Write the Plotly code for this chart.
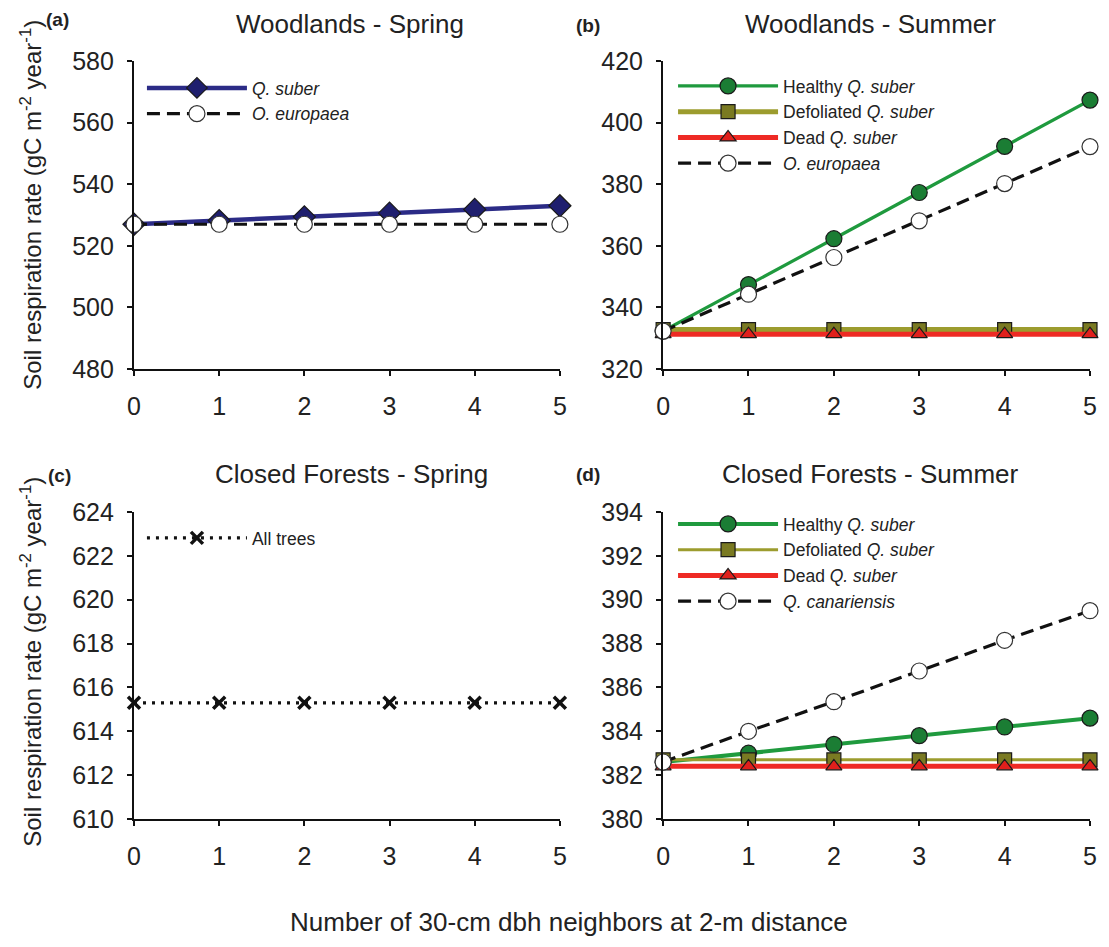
import plotly.graph_objects as go

# ---------------- data ----------------
neighbors = [0, 1, 2, 3, 4, 5]

a_q_suber = [527.0, 528.2, 529.4, 530.6, 531.8, 533.0]
a_o_europaea = [527.0, 527.0, 527.0, 527.0, 527.0, 527.0]

b_healthy = [332.3, 347.4, 362.3, 377.3, 392.3, 407.3]
b_defoliated = [332.8, 332.8, 332.8, 332.8, 332.8, 332.8]
b_dead = [331.3, 331.3, 331.3, 331.3, 331.3, 331.3]
b_o_europaea = [332.3, 344.3, 356.2, 368.1, 380.2, 392.2]

c_all_trees = [615.3, 615.3, 615.3, 615.3, 615.3, 615.3]

d_healthy = [382.6, 383.0, 383.4, 383.8, 384.2, 384.6]
d_defoliated = [382.7, 382.7, 382.7, 382.7, 382.7, 382.7]
d_dead = [382.4, 382.4, 382.4, 382.4, 382.4, 382.4]
d_canariensis = [382.6, 384.0, 385.35, 386.75, 388.15, 389.5]

panel_titles = ["Woodlands - Spring", "Woodlands - Summer",
                "Closed Forests - Spring", "Closed Forests - Summer"]
panel_letters = ["(a)", "(b)", "(c)", "(d)"]
y_ranges = [(480, 580), (320, 420), (610, 624), (380, 394)]
y_dticks = [20, 20, 2, 2]
y_title = "Soil respiration rate (gC m<sup>-2</sup> year<sup>-1</sup>)"
x_title = "Number of 30-cm dbh neighbors at 2-m distance"

# ---------------- styles ----------------
FONT = "Liberation Sans, Arial, sans-serif"
NAVY = "#2b2b86"
NAVY_M = "#1f1f6e"
GREEN = "#1f9a3e"
GREEN_M = "#1b7d34"
OLIVE = "#9c9c2e"
OLIVE_M = "#7a7a22"
RED = "#ee2a24"
RED_M = "#e0201c"
DASH = "13px,7px"

fig = go.Figure()


def add(y, name, xa, ya, legend, color, width, dash, symbol, msize, mfill, mline="#1a1a1a"):
    fig.add_trace(go.Scatter(
        x=neighbors, y=y, name=name, mode="lines+markers",
        xaxis=xa, yaxis=ya, legend=legend,
        line=dict(color=color, width=width, dash=dash),
        marker=dict(symbol=symbol, size=msize, color=mfill,
                    line=dict(color=mline, width=1.2)),
        cliponaxis=False,
    ))


# panel a
add(a_q_suber, "<i>Q. suber</i>", "x", "y", "legend", NAVY, 4.5, "solid", "diamond", 17, NAVY_M)
add(a_o_europaea, "<i>O. europaea</i>", "x", "y", "legend", "#111111", 3.2, DASH, "circle", 16, "white", "#333333")

# panel b
add(b_healthy, "Healthy <i>Q. suber</i>", "x2", "y2", "legend2", GREEN, 3.2, "solid", "circle", 16, GREEN_M)
add(b_defoliated, "Defoliated <i>Q. suber</i>", "x2", "y2", "legend2", OLIVE, 5, "solid", "square", 14, OLIVE_M)
add(b_dead, "Dead <i>Q. suber</i>", "x2", "y2", "legend2", RED, 5, "solid", "triangle-up", 14, RED_M)
add(b_o_europaea, "<i>O. europaea</i>", "x2", "y2", "legend2", "#111111", 3.2, DASH, "circle", 16, "white", "#333333")

# panel c
fig.add_trace(go.Scatter(
    x=neighbors, y=c_all_trees, name="All trees", mode="lines+markers",
    xaxis="x3", yaxis="y3", legend="legend3",
    line=dict(color="#111111", width=3.2, dash="3px,6px"),
    marker=dict(symbol="x-thin", size=12, color="#111111",
                line=dict(color="#111111", width=3.5)),
    cliponaxis=False,
))

# panel d
add(d_healthy, "Healthy <i>Q. suber</i>", "x4", "y4", "legend4", GREEN, 4, "solid", "circle", 16, GREEN_M)
add(d_defoliated, "Defoliated <i>Q. suber</i>", "x4", "y4", "legend4", OLIVE, 3, "solid", "square", 14, OLIVE_M)
add(d_dead, "Dead <i>Q. suber</i>", "x4", "y4", "legend4", RED, 5, "solid", "triangle-up", 14, RED_M)
add(d_canariensis, "<i>Q. canariensis</i>", "x4", "y4", "legend4", "#111111", 3.2, DASH, "circle", 16, "white", "#333333")

# ---------------- layout ----------------
# the page body has an 8px default margin: work in window pixels and shift
OFF = 8
W, H = 1109 - OFF, 947 - OFF
ML, MT = 134 - OFF, 61 - OFF
MR = W - (1097 - OFF)
MB = H - (819 - OFF)
PW, PH = W - ML - MR, H - MT - MB


def px_x(px):
    return (px - OFF - ML) / PW


def px_y(py):
    return 1 - (py - OFF - MT) / PH


x_domains = [(px_x(134), px_x(563)), (px_x(667), px_x(1097))]
y_domains = [(px_y(369), px_y(61)), (px_y(819), px_y(512))]

axis_common = dict(
    showline=True, linecolor="#111111", linewidth=2.2,
    ticks="outside", ticklen=5, tickwidth=2, tickcolor="#111111",
    showgrid=False, zeroline=False,
    tickfont=dict(family=FONT, size=25, color="#222222"),
)

layout_axes = {}
for i in range(4):
    col = i % 2
    row = i // 2
    sfx = "" if i == 0 else str(i + 1)
    layout_axes["xaxis" + sfx] = dict(
        axis_common, domain=x_domains[col], range=[0, 5], dtick=1, tick0=0,
        anchor="y" + sfx, ticklabelstandoff=9,
    )
    layout_axes["yaxis" + sfx] = dict(
        axis_common, domain=y_domains[row], range=list(y_ranges[i]),
        dtick=y_dticks[i], tick0=y_ranges[i][0], anchor="x" + sfx,
        ticklabelstandoff=8,
    )

legend_common = dict(
    bgcolor="rgba(0,0,0,0)", borderwidth=0, itemwidth=100,
    font=dict(family=FONT, size=17.5, color="#222222"),
    xanchor="left", yanchor="top", tracegroupgap=0,
    itemclick=False,
)

fig.update_layout(
    width=W, height=H, autosize=False,
    margin=dict(l=ML, r=MR, t=MT, b=MB),
    paper_bgcolor="white", plot_bgcolor="white",
    font=dict(family=FONT, color="#222222"),
    legend=dict(legend_common, x=px_x(142), y=px_y(70)),
    legend2=dict(legend_common, x=px_x(677), y=px_y(68)),
    legend3=dict(legend_common, x=px_x(142), y=px_y(520)),
    legend4=dict(legend_common, x=px_x(677), y=px_y(506)),
    **layout_axes,
)

annotations = []
title_pos = [(352, 24), (876, 24), (353, 474), (876, 474)]
letter_pos = [(57, 20), (591, 25), (59, 475), (591, 474)]
for i in range(4):
    annotations.append(dict(
        text=panel_titles[i], xref="paper", yref="paper",
        x=px_x(title_pos[i][0]), y=px_y(title_pos[i][1]),
        xanchor="center", yanchor="middle", showarrow=False,
        font=dict(family=FONT, size=26, color="#222222"),
    ))
    annotations.append(dict(
        text="<b>" + panel_letters[i] + "</b>", xref="paper", yref="paper",
        x=px_x(letter_pos[i][0]), y=px_y(letter_pos[i][1]),
        xanchor="center", yanchor="middle", showarrow=False,
        font=dict(family=FONT, size=19, color="#222222"),
    ))

for cy in (205, 662):
    annotations.append(dict(
        text=y_title, xref="paper", yref="paper",
        x=px_x(30), y=px_y(cy), textangle=-90,
        xanchor="center", yanchor="middle", showarrow=False,
        font=dict(family=FONT, size=24, color="#222222"),
    ))

annotations.append(dict(
    text=x_title, xref="paper", yref="paper",
    x=px_x(572), y=px_y(922), xanchor="center", yanchor="middle",
    showarrow=False, font=dict(family=FONT, size=26, color="#222222"),
))

fig.update_layout(annotations=annotations)

fig.write_html("out.html")
